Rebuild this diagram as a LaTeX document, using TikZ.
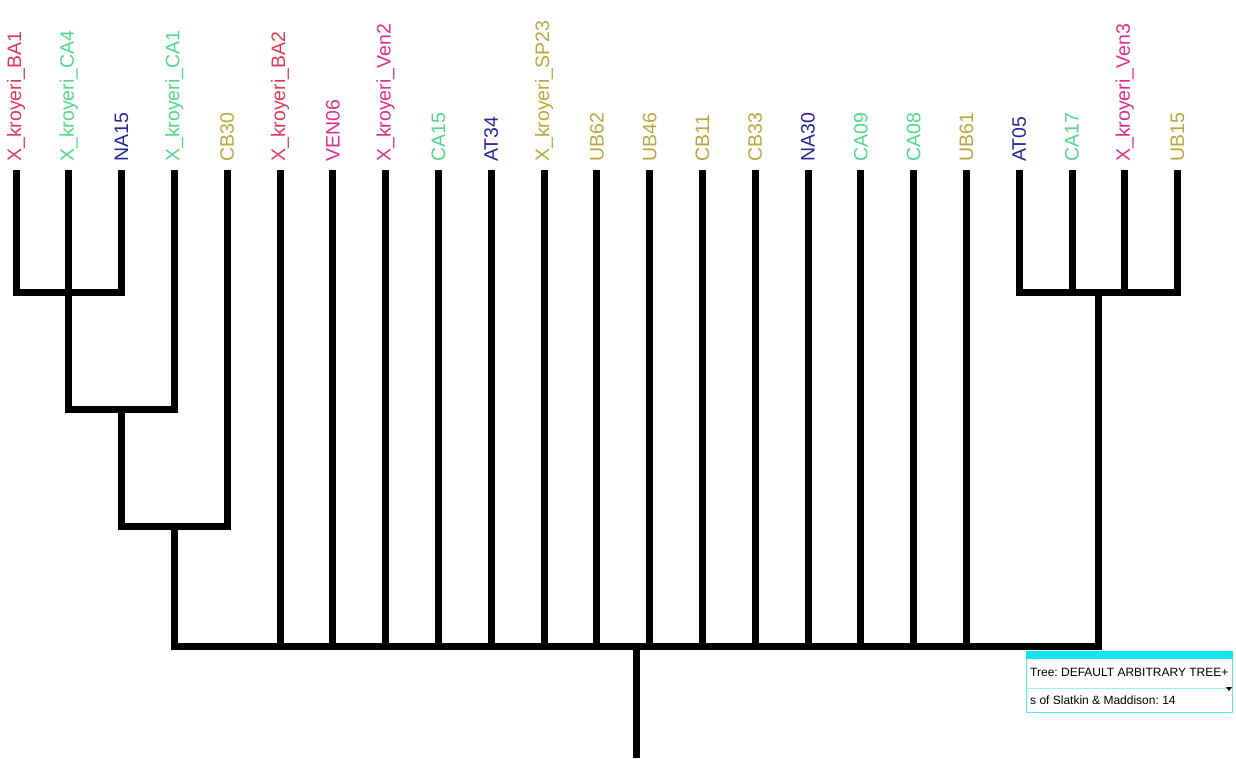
\documentclass[tikz,border=0pt]{standalone}
\usepackage{fontspec}
\setmainfont{Liberation Sans}
\usepackage{xcolor}
\usetikzlibrary{positioning}
\definecolor{taxred}{HTML}{DC3A56}
\definecolor{taxgreen}{HTML}{52D888}
\definecolor{taxnavy}{HTML}{262696}
\definecolor{taxolive}{HTML}{B8A83C}
\definecolor{taxpink}{HTML}{DA2E88}
\definecolor{panelcyan}{HTML}{10E4EC}
\frenchspacing

\begin{document}
\begin{tikzpicture}[x=1pt,y=-1pt,
branch/.style={line width=7pt,black},
taxon/.style={rotate=90,anchor=west,inner sep=0pt,font=\fontsize{19.5}{20}\selectfont},
infotext/.style={anchor=west,inner sep=0pt,font=\fontsize{12}{12}\selectfont}]
\useasboundingbox (0,0) rectangle (1236,758);
% tips and taxon labels
\coordinate (t1) at (16,170);     \node[taxon,text=taxred] (l1) at (16,162) {X\_kroyeri\_BA1};
\coordinate (t2) at (68.8,170);   \node[taxon,text=taxgreen] (l2) at (68.8,162) {X\_kroyeri\_CA4};
\coordinate (t3) at (121.6,170);  \node[taxon,text=taxnavy] (l3) at (121.6,162) {NA15};
\coordinate (t4) at (174.4,170);  \node[taxon,text=taxgreen] (l4) at (174.4,162) {X\_kroyeri\_CA1};
\coordinate (t5) at (227.2,170);  \node[taxon,text=taxolive] (l5) at (227.2,162) {CB30};
\coordinate (t6) at (280,170);    \node[taxon,text=taxred] (l6) at (280,162) {X\_kroyeri\_BA2};
\coordinate (t7) at (332.8,170);  \node[taxon,text=taxpink] (l7) at (332.8,162) {VEN06};
\coordinate (t8) at (385.6,170);  \node[taxon,text=taxpink] (l8) at (385.6,162) {X\_kroyeri\_Ven2};
\coordinate (t9) at (438.4,170);  \node[taxon,text=taxgreen] (l9) at (438.4,162) {CA15};
\coordinate (t10) at (491.2,170); \node[taxon,text=taxnavy] (l10) at (491.2,162) {AT34};
\coordinate (t11) at (544,170);   \node[taxon,text=taxolive] (l11) at (544,162) {X\_kroyeri\_SP23};
\coordinate (t12) at (596.8,170); \node[taxon,text=taxolive] (l12) at (596.8,162) {UB62};
\coordinate (t13) at (649.6,170); \node[taxon,text=taxolive] (l13) at (649.6,162) {UB46};
\coordinate (t14) at (702.4,170); \node[taxon,text=taxolive] (l14) at (702.4,162) {CB11};
\coordinate (t15) at (755.2,170); \node[taxon,text=taxolive] (l15) at (755.2,162) {CB33};
\coordinate (t16) at (808,170);   \node[taxon,text=taxnavy] (l16) at (808,162) {NA30};
\coordinate (t17) at (860.8,170); \node[taxon,text=taxgreen] (l17) at (860.8,162) {CA09};
\coordinate (t18) at (913.6,170); \node[taxon,text=taxgreen] (l18) at (913.6,162) {CA08};
\coordinate (t19) at (966.4,170); \node[taxon,text=taxolive] (l19) at (966.4,162) {UB61};
\coordinate (t20) at (1019.2,170);\node[taxon,text=taxnavy] (l20) at (1019.2,162) {AT05};
\coordinate (t21) at (1072,170);  \node[taxon,text=taxgreen] (l21) at (1072,162) {CA17};
\coordinate (t22) at (1124.8,170);\node[taxon,text=taxpink] (l22) at (1124.8,162) {X\_kroyeri\_Ven3};
\coordinate (t23) at (1177.6,170);\node[taxon,text=taxolive] (l23) at (1177.6,162) {UB15};
% internal nodes
\coordinate (n1) at (68.8,292);
\coordinate (n2) at (121.6,409);
\coordinate (n3) at (174.4,526);
\coordinate (n4) at (1098.4,292);
\coordinate (root) at (636.4,646);
\coordinate (base) at (636.4,758);
% branches
\draw[branch] (t1) |- (n1) -| (t3);
\draw[branch] (t2) -- (n1);
\draw[branch] (n1) |- (n2) -| (t4);
\draw[branch] (n2) |- (n3) -| (t5);
\draw[branch] (t20) |- (n4) -| (t23);
\draw[branch] (t21) -- (t21 |- n4);
\draw[branch] (t22) -- (t22 |- n4);
\draw[branch] (n3) |- (root) -| (n4);
\draw[branch] (t6) -- (t6 |- root);
\draw[branch] (t7) -- (t7 |- root);
\draw[branch] (t8) -- (t8 |- root);
\draw[branch] (t9) -- (t9 |- root);
\draw[branch] (t10) -- (t10 |- root);
\draw[branch] (t11) -- (t11 |- root);
\draw[branch] (t12) -- (t12 |- root);
\draw[branch] (t13) -- (t13 |- root);
\draw[branch] (t14) -- (t14 |- root);
\draw[branch] (t15) -- (t15 |- root);
\draw[branch] (t16) -- (t16 |- root);
\draw[branch] (t17) -- (t17 |- root);
\draw[branch] (t18) -- (t18 |- root);
\draw[branch] (t19) -- (t19 |- root);
\draw[branch] (root) -- (base);
% tree info panel
\node[draw=panelcyan!70,line width=1pt,fill=white,minimum width=206pt,minimum height=61pt,
inner sep=0pt,anchor=north west] (panel) at (1026,651) {};
\fill[panelcyan] (panel.north west) rectangle ([yshift=-8pt]panel.north east);
\draw[panelcyan!45] ([yshift=25pt]panel.south west) -- ([yshift=25pt]panel.south east);
\node[infotext] (row1) at (1030,672) {Tree: DEFAULT ARBITRARY TREE+};
\node[infotext] (row2) at (1030,700) {s of Slatkin \& Maddison: 14};
\fill (1226,687) -- (1232,687) -- (1229,691) -- cycle;
\end{tikzpicture}
\end{document}
